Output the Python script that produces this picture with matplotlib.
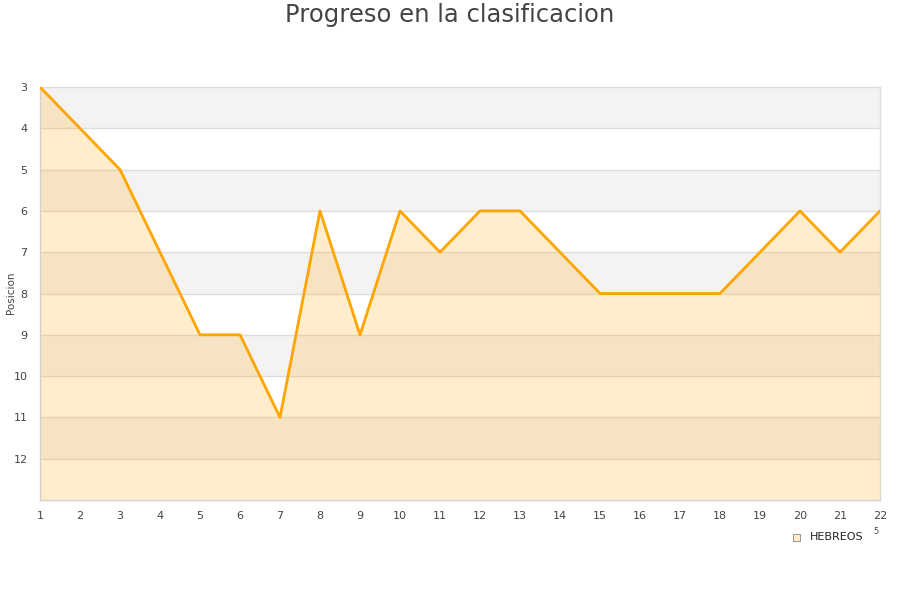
import numpy as np
import matplotlib
matplotlib.use("Agg")
import matplotlib.pyplot as plt

# jornadas y posicion
jornadas = list(range(1, 23))
posicion = [3, 4, 5, 7, 9, 9, 11, 6, 9, 6, 7, 6, 6, 7, 8, 8, 8, 8, 7, 6, 7, 6]
y_ticks = list(range(3, 13))
equipo = "HEBREOS"

fig = plt.figure(figsize=(9, 6), dpi=100)
ax = fig.add_axes([40/900, 1 - 500/600, 840/900, 413/600])

ax.set_xlim(1, 22)
ax.set_ylim(13, 3)

# alternating bands
for i, y in enumerate(range(3, 13)):
  if i % 2 == 0:
    ax.axhspan(y, y + 1, color='#f3f3f3', zorder=0, lw=0)
for y in range(4, 13):
  ax.axhline(y, color='#dddddd', lw=1, zorder=1)

ax.fill_between(jornadas, posicion, 13, color='#ffa500', alpha=0.2, lw=0, zorder=2)
ax.plot(jornadas, posicion, color='#ffa500', lw=2, zorder=3)

ax.set_xticks(jornadas)
ax.set_yticks(y_ticks)
ax.tick_params(length=0, labelsize=8, colors='#444444')
ax.tick_params(axis='x', pad=8)
ax.tick_params(axis='y', pad=9)

for s in ['top', 'right']:
  ax.spines[s].set_visible(False)
for s in ['left', 'bottom']:
  ax.spines[s].set_color('#d0d0d0')
  ax.spines[s].set_linewidth(1)
ax.plot([1, 22], [3, 3], color='#dddddd', lw=1, zorder=1, clip_on=False)
ax.plot([22, 22], [3, 13], color='#dddddd', lw=1, zorder=1, clip_on=False)

fig.text(11/900, 1 - 293/600, 'Posicion', rotation=90, fontsize=7.5,
         color='#444444', ha='center', va='center')
fig.text(0.5, 1 - 15/600, 'Progreso en la clasificacion', ha='center', va='center',
         fontsize=17.5, color='#444444')

# legend
fig.patches.append(plt.Rectangle((793/900, 1 - 541/600), 7/900, 7/600,
                                 transform=fig.transFigure, facecolor='#ffedcc',
                                 edgecolor='#888888', lw=0.6))
fig.text(810/900, 1 - 537/600, equipo, fontsize=8, va='center', color='#222222')
fig.text(873/900, 1 - 532/600, '5', fontsize=6, va='center', color='#444444')

fig.savefig('out.png')
